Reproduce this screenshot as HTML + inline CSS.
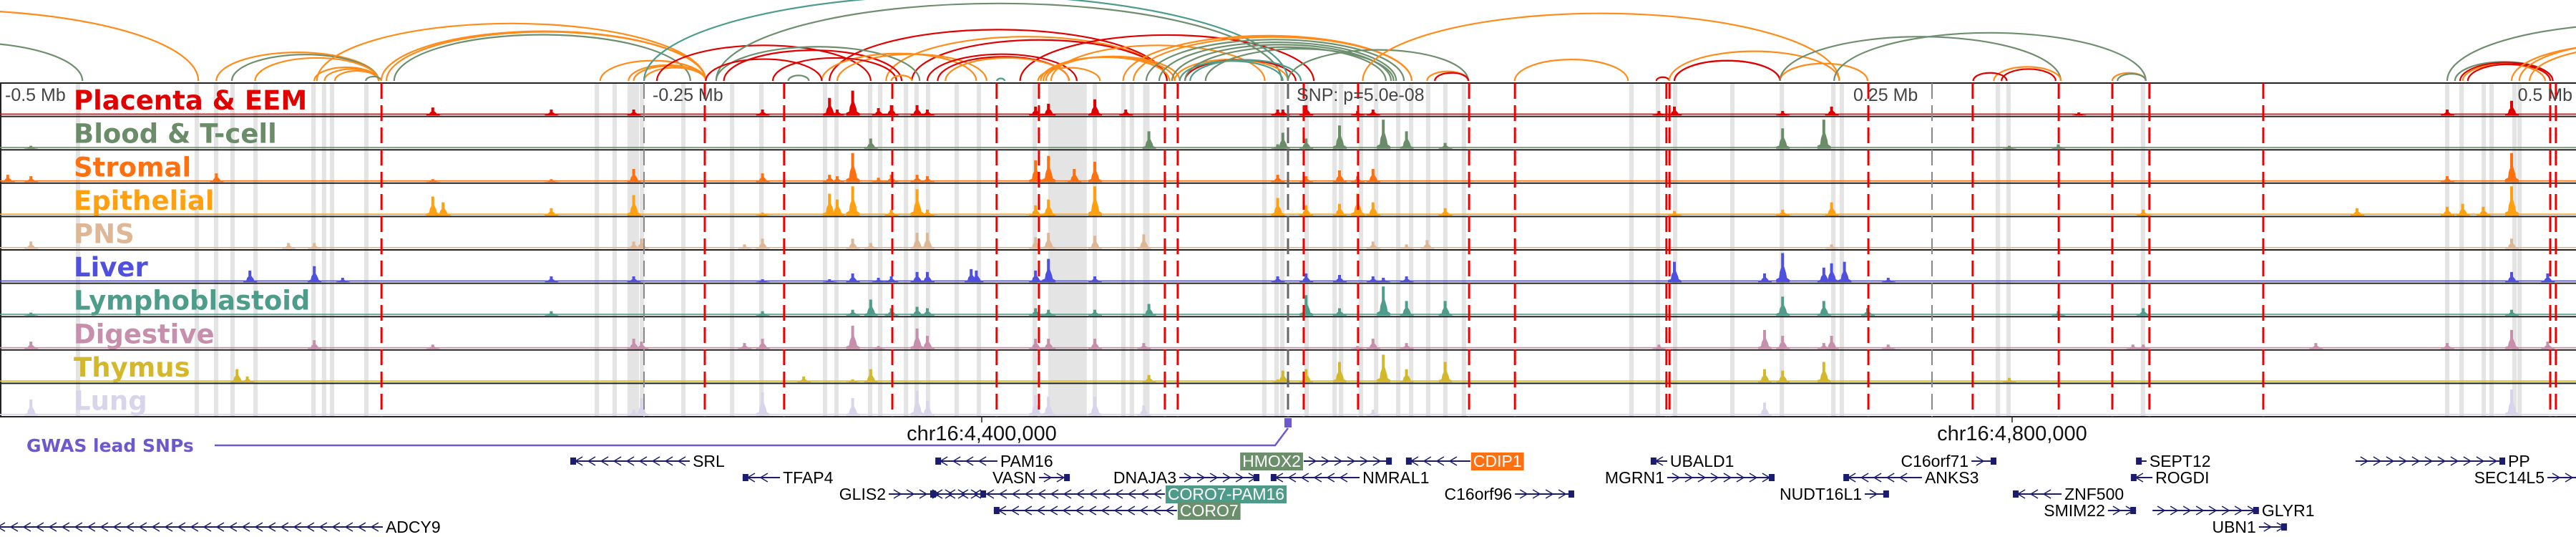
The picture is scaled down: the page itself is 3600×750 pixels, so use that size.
<!DOCTYPE html>
<html><head><meta charset="utf-8">
<style>
html,body{margin:0;padding:0;background:#fff;}
svg{display:block;}
text{font-family:"Liberation Sans","DejaVu Sans",sans-serif;}
</style></head>
<body>
<svg id="fig" width="3600" height="750" viewBox="0 0 3600 750" xmlns="http://www.w3.org/2000/svg">
<defs>
<clipPath id="arcclip"><rect x="0" y="0" width="3600" height="115"/></clipPath>
<clipPath id="plotclip"><rect x="0" y="0" width="3600" height="750"/></clipPath>
</defs>
<g id="arcs" clip-path="url(#arcclip)"></g>
<g id="bands"></g>
<g id="tracks"></g>
<g id="vlines"></g>
<g id="labels"></g>
<g id="axis"></g>
<g id="genes" clip-path="url(#plotclip)"></g>
</svg>
<script>
// ---------- DATA (positions in kb relative to lead SNP) ----------
const trackNames = ["Placenta & EEM","Blood & T-cell","Stromal","Epithelial","PNS","Liver","Lymphoblastoid","Digestive","Thymus","Lung"];
const trackColors = ["#e00000","#6a8c68","#ff7010","#ffa010","#deb896","#5050e0","#4e9d8a","#c78fab","#d4b82c","#d8d4ea"];
const placentaPeaks = [[-332,.27],[-286,.2],[-254,.2],[-204,.2],[-178,.6],[-175,.2],[-169,.85],[-159,.25],[-154,.35],[-144,.35],[-140,.2],[-98,.3],[-93,.4],[-75,.55],[-63,.2],[-4,.2],[-2,.2],[7,.35],[27,.15],[33,.2],[144,.15],[150,.3],[192,.15],[211,.3],[307,.1],[450,.2],[475,.5]];
const bloodPeaks = [[-488,.1],[-162,.35],[-54,.6],[-4,.15],[-2,.55],[7,.35],[20,.8],[37,1.0],[46,.6],[61,.2],[192,.7],[208,1.0],[280,.1],[299,.15]];
const stromalPeaks = [[-497,.25],[-488,.2],[-416,.3],[-332,.1],[-286,.1],[-254,.45],[-204,.3],[-178,.25],[-175,.2],[-169,1.0],[-159,.15],[-154,.25],[-144,.25],[-140,.2],[-98,.75],[-93,.9],[-83,.45],[-75,.7],[-4,.25],[7,.2],[20,.4],[27,.2],[33,.45],[450,.2],[475,1.0]];
const epithelialPeaks = [[-332,.65],[-328,.45],[-286,.25],[-254,.7],[-204,.1],[-178,.75],[-175,.55],[-169,1.0],[-154,.2],[-144,.9],[-140,.2],[-98,.35],[-93,.55],[-75,1.0],[-4,.6],[7,.35],[20,.4],[27,.75],[33,.45],[61,.25],[150,.15],[192,.2],[211,.45],[332,.2],[415,.25],[450,.3],[456,.4],[464,.3],[475,1.0]];
const pnsPeaks = [[-488,.25],[-388,.2],[-378,.2],[-254,.25],[-251,.35],[-211,.15],[-204,.35],[-169,.35],[-162,.2],[-144,.55],[-140,.55],[-98,.4],[-93,.55],[-75,.45],[-56,.5],[33,.25],[46,.15],[54,.3],[211,.15],[475,.35]];
const liverPeaks = [[-403,.4],[-378,.55],[-367,.15],[-286,.2],[-254,.2],[-204,.1],[-178,.1],[-169,.3],[-159,.15],[-154,.2],[-144,.35],[-140,.35],[-123,.45],[-121,.4],[-98,.4],[-93,.8],[-75,.2],[-4,.2],[7,.3],[20,.25],[33,.2],[37,.15],[46,.2],[150,.7],[185,.3],[192,1.0],[208,.5],[211,.65],[216,.7],[233,.15],[475,.35],[489,.3]];
const lymphPeaks = [[-488,.1],[-286,.15],[-204,.15],[-169,.2],[-162,.55],[-154,.25],[-144,.3],[-140,.25],[-98,.25],[-93,.2],[-75,.2],[-54,.4],[7,.7],[20,.25],[37,1.0],[46,.5],[61,.5],[192,.65],[208,.5],[225,.25],[299,.15],[332,.25],[475,.2]];
const digestivePeaks = [[-488,.25],[-378,.3],[-332,.15],[-254,.35],[-251,.25],[-211,.2],[-204,.35],[-169,.8],[-159,.1],[-144,.7],[-140,.45],[-98,.35],[-93,.35],[-75,.35],[-56,.2],[27,.1],[33,.35],[46,.2],[144,.15],[185,.65],[192,.45],[208,.2],[211,.45],[233,.15],[328,.15],[332,.15],[399,.2],[450,.2],[475,.65],[489,.25]];
const thymusPeaks = [[-408,.45],[-404,.2],[-188,.2],[-169,.1],[-162,.45],[-54,.25],[-4,.1],[-2,.4],[7,.45],[20,.7],[37,.95],[46,.45],[61,.7],[185,.45],[192,.4],[208,.7],[280,.15]];
const lungPeaks = [[-488,.55],[-254,.2],[-251,.6],[-204,.8],[-169,.6],[-144,.85],[-140,.5],[-98,.7],[-93,.65],[-75,.65],[-56,.35],[33,.2],[185,.45],[475,.9]];
const allPeaks = [placentaPeaks,bloodPeaks,stromalPeaks,epithelialPeaks,pnsPeaks,liverPeaks,lymphPeaks,digestivePeaks,thymusPeaks,lungPeaks];

const bandCenters = [-469.7,-423.6,-416.1,-409.7,-400.8,-378.3,-374.2,-371.1,-357.8,-268.3,-261.4,-254.2,-250.8,-234.7,-215.8,-204.4,-179.7,-175.3,-162.2,-158.3,-148.3,-144.2,-139.7,-128.6,-120,-98.3,-85.6,-75,-63.9,-60.6,-55,-9.2,-4.4,-2.2,7.2,18.1,20.6,28.3,34.2,42.8,47.8,54.4,61.1,68.3,133.3,143.6,150.3,172.5,191.7,211.7,215,275.6,279.7,331.9,450,455.6,464.2,467.2,476.1,478.1];
const bandWidths = {"-254.2":4.5,"-85.6":15,"-55":2.5};
const snpLinesKb = [-351.9,-226.4,-195.6,-153.6,-113.1,-96.7,-47.8,-42.8,6.1,27.2,70.3,88.1,146.9,148.1,225.3,265.8,299.2,320,334.4,378.6,490,492.2];
const tickKb = [-250,0,250];

const arcStart = [-560,-620,-416,-410,-401,-378,-374,-370,-358,-377,-352,-350,-347,-267,-256,-254,-250,-245,-222,-178,-156,-146,-92,-104,-222,-219,-181,-175,-226,-200,-140,-136,-133,-96,-95,-94,-97,-44,-40,-38,-42,-250,-113,-154,-194,
 -64,-60,-55,-50,-45,-40,-32,0,29,54,57,88,143,148,150,150,191,191,212,274,266,277,320,322,450,453,455,456,458,475,478,482];
const arcEnd = [-468,-423,-353,-353,-353,-353,-353,-353,-352,-226,-226,-226,-232,-226,-226,-226,-226,-162,-2.5,-47,-47,-47,-9,10,-143,-150,-121,-117,-181,-152,-82,-85,-85,-46,-44,-42,-73,0,3,5,-2,0,-110,-146,-186,
 48,48,45,42,40,38,41,70,214,70,70,132,148,214,191,191,225,300,333,300,279,298,333,333,600,491,491,488,490,560,570,560];
const arcColor = "GOOGOOOOGOOOGOOOORGRORORGROORRRROOOOOORTTTTOGOO"+"GGGGGGOORORORROGGORROGGGROROOOROO";

const geneName = ["SRL","PAM16","HMOX2","CDIP1","UBALD1","C16orf71","SEPT12","PP","TFAP4","VASN","DNAJA3","NMRAL1","MGRN1","ANKS3","ROGDI","SEC14L5","GLIS2","CORO7-PAM16","C16orf96","NUDT16L1","ZNF500","CORO7","SMIM22","GLYR1","ADCY9","UBN1"];
const geneStart = [-278.6,-136.9,6.1,45.8,140.8,265.3,329.2,414.4,-211.7,-96.7,-42.2,-6.7,147.2,215.6,327.2,488.9,-155,-138.9,88.1,223.9,281.4,-114.2,318.3,335.6,-502.8,376.9];
const geneEnd = [-232.2,-112.8,40.3,70.8,147.2,275,333.3,472.5,-197.2,-84.7,-11.1,27.8,188.9,246.1,335.6,505.6,-117.2,-47.8,111.1,233.3,300.3,-43.1,329.2,376.9,-351.4,387.8];
const geneStrand = "--+--+-+-++-+--++-++--++-+".split("");
const geneRow = [0,0,0,0,0,0,0,0,1,1,1,1,1,1,1,1,2,2,2,2,2,3,3,3,4,4];
const geneLabelSide = ["R","R","L","R","R","L","R","R","R","L","L","R","L","R","R","L","L","R","L","L","R","R","L","R","R","L"];
const geneHighlight = {"HMOX2":"#6a8f6a","CDIP1":"#ff7010","CORO7-PAM16":"#4e9b8a","CORO7":"#6a8f6a"};

// ---------- SCALES ----------
const NS="http://www.w3.org/2000/svg";
const X = kb => 1800 + kb*3.6;
const TOP=116, ROWH=46.6, NROW=10, BOTTOM=TOP+ROWH*NROW;
const rowBase = i => TOP + ROWH*(i+1) - 1.5;
const arcH = (a,b) => 0.52*Math.pow(Math.abs(X(b)-X(a)),0.8);
const colMap = {O:"#ff8c1a",G:"#6e8f6e",R:"#e00000",T:"#4e9d8a"};
function mk(tag,attrs,parent){const e=document.createElementNS(NS,tag);for(const k in attrs)e.setAttribute(k,attrs[k]);parent.appendChild(e);return e;}

// ---------- ARCS ----------
const gA=document.getElementById('arcs');
for(let i=0;i<arcStart.length;i++){
  const x1=X(arcStart[i]), x2=X(arcEnd[i]); const h=arcH(arcStart[i],arcEnd[i]); const base=113;
  const c=colMap[arcColor[i]]||"#ff8c1a";
  const p=mk('path',{d:`M${x1},${base} A${(x2-x1)/2},${h} 0 0 1 ${x2},${base}`,fill:'none',stroke:c,'stroke-width':2.2},gA);
  
  
}

// ---------- BANDS ----------
const gB=document.getElementById('bands');
bandCenters.forEach(c=>{
  const w=(bandWidths[String(c)]||1.7)*3.6;
  const r=mk('rect',{x:X(c)-w/2,y:TOP,width:w,height:BOTTOM-TOP,fill:'#e4e4e4'},gB);
  
  
});

// ---------- TRACKS ----------
const gT=document.getElementById('tracks');
mk('line',{x1:0,y1:TOP,x2:3600,y2:TOP,stroke:'#222','stroke-width':2},gT);
mk('line',{x1:1,y1:TOP,x2:1,y2:BOTTOM,stroke:'#222','stroke-width':2},gT);
allPeaks.forEach((peaks,i)=>{
  const g=mk('g',{},gT);
  
  
  const base=rowBase(i), col=trackColors[i], maxH=ROWH-6;
  mk('rect',{x:0,y:base-2.5,width:3600,height:1.6,fill:col},g);
  peaks.forEach(([kb,h])=>{
    const x=X(kb), H=h*maxH;
    const p=mk('polygon',{points:`${x-9},${base} ${x-9},${base-H*0.1} ${x-5},${base-H*0.15} ${x-4},${base-H*0.35} ${x-2},${base-H*0.5} ${x-2},${base-H} ${x+2},${base-H} ${x+2},${base-H*0.55} ${x+5},${base-H*0.3} ${x+6},${base-H*0.15} ${x+10},${base-H*0.08} ${x+10},${base}`,fill:col},g);
    
    
  });
  mk('line',{x1:0,y1:TOP+ROWH*(i+1),x2:3600,y2:TOP+ROWH*(i+1),stroke:'#222','stroke-width':2},g);
});

// ---------- VERTICAL LINES ----------
const gV=document.getElementById('vlines');
snpLinesKb.forEach(kb=>{
  const l=mk('line',{x1:X(kb),y1:TOP,x2:X(kb),y2:BOTTOM,stroke:'#ee0000','stroke-width':3,'stroke-dasharray':'22 9'},gV);
  
  
});
tickKb.forEach(kb=>{
  const l=mk('line',{x1:X(kb),y1:TOP,x2:X(kb),y2:BOTTOM,stroke:kb===0?'#666':'#888','stroke-width':kb===0?3:2,'stroke-dasharray':'22 9'},gV);
  
  
});

// ---------- LABELS ----------
const gL=document.getElementById('labels');
trackNames.forEach((n,i)=>{
  const t=mk('text',{x:103,y:rowBase(i)-8,fill:trackColors[i],'font-size':37,'font-weight':'bold',style:'font-family:"DejaVu Sans",sans-serif'},gL);
  t.textContent=n;
  
  
});
[["-0.5 Mb",7,"start"],["-0.25 Mb",912,"start"],["SNP: p=5.0e-08",1812,"start"],["0.25 Mb",2590,"start"],["0.5 Mb",3595,"end"]].forEach(([s,x,a])=>{
  const t=mk('text',{x:x,y:141,fill:'#444','font-size':25,'text-anchor':a},gL);
  t.textContent=s;
  
  
});

// ---------- AXIS ----------
const gX=document.getElementById('axis');
const coordKb=[-118.9,281.1]; const coordLbl=["chr16:4,400,000","chr16:4,800,000"];
coordKb.forEach((kb,i)=>{
  mk('line',{x1:X(kb),y1:BOTTOM,x2:X(kb),y2:BOTTOM+8,stroke:'#222','stroke-width':1.5},gX);
  const t=mk('text',{x:X(kb),y:615,'font-size':29,'text-anchor':'middle',fill:'#111'},gX);
  t.textContent=coordLbl[i];
  
  
});
const gw=mk('text',{x:37,y:631,'font-size':25,'font-weight':'bold',fill:'#6a5acd',style:'font-family:"DejaVu Sans",sans-serif'},gX);
gw.textContent="GWAS lead SNPs";


mk('path',{d:`M300,622 L${X(0)-18},622 L${X(0)},598`,fill:'none',stroke:'#6a5acd','stroke-width':2.5},gX);
const sb=mk('rect',{x:X(0)-5,y:584,width:10,height:13,fill:'#6a5acd'},gX);



// ---------- GENES ----------
const gG=document.getElementById('genes');
const rowY=[644,667,690,713,736];
geneName.forEach((n,i)=>{
  const g=mk('g',{},gG);
  
  
  const x1=X(geneStart[i]), x2=X(geneEnd[i]), y=rowY[geneRow[i]], col='#1c1c6e';
  mk('line',{x1:x1,y1:y,x2:x2,y2:y,stroke:col,'stroke-width':2},g);
  const dir=geneStrand[i]==='+'?1:-1;
  for(let x=x1+12;x<x2-8;x+=18){
    mk('path',{d:`M${x-5*dir},${y-6} L${x+5*dir},${y} L${x-5*dir},${y+6}`,fill:'none',stroke:col,'stroke-width':1.5},g);
  }
  const bx = dir>0 ? x2-8 : x1;
  mk('rect',{x:bx,y:y-5,width:8,height:10,fill:col},g);
  const right=geneLabelSide[i]==='R';
  const fs=23;
  const tx = right ? x2+4 : x1-4;
  let bg=null;
  if(geneHighlight[n]) bg=mk('rect',{y:y-12,height:25,fill:geneHighlight[n]},g);
  const t=mk('text',{x:tx,y:y+8,'font-size':fs,'text-anchor':right?'start':'end',fill:geneHighlight[n]?'#fff':'#000'},g);
  t.textContent=n;
  if(bg){
    const tw=t.getComputedTextLength();
    bg.setAttribute('x', right ? tx-3 : tx-tw-3);
    bg.setAttribute('width', tw+6);
  }
});
</script>
</body></html>
